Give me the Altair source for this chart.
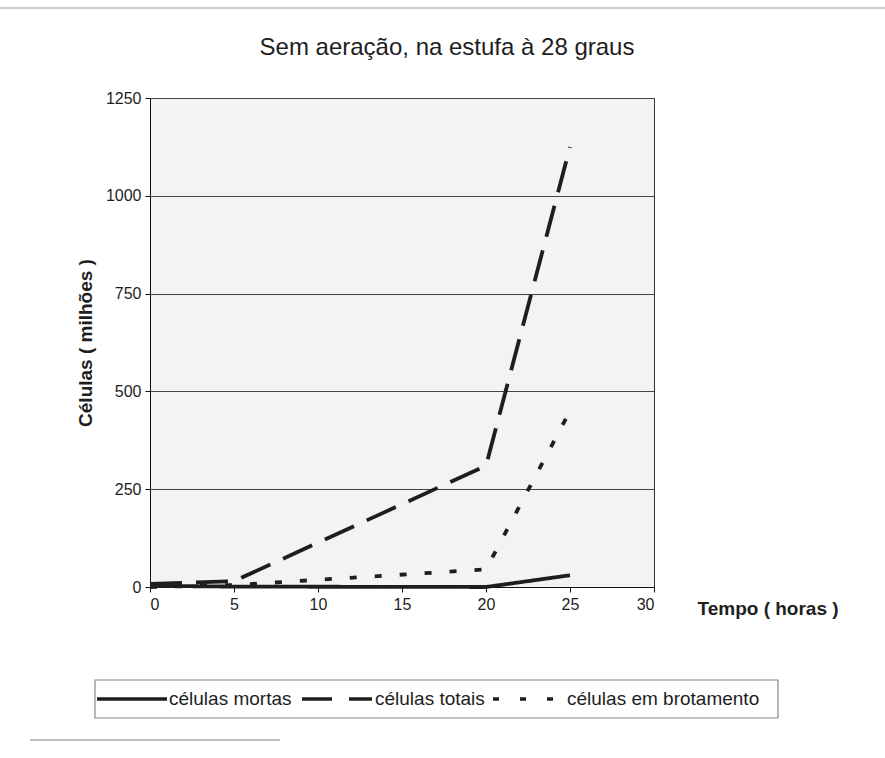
import altair as alt
import pandas as pd

tempo = [0, 5, 20, 25]
mortas = [3, 1, 0, 30]
totais = [8, 15, 310, 1125]
brotamento = [0, 5, 45, 450]
series_names = ["células mortas", "células totais", "células em brotamento"]
x_ticks = [0, 5, 10, 15, 20, 25, 30]
y_ticks = [0, 250, 500, 750, 1000, 1250]
title_text = "Sem aeração, na estufa à 28 graus"

rows = []
for name, vals in zip(series_names, [mortas, totais, brotamento]):
    for t, v in zip(tempo, vals):
        rows.append({"Tempo": t, "Células": v, "Série": name})
df = pd.DataFrame(rows)

FONT = "Liberation Sans"
INK = "#1e1e1e"
line_dashes = [[1, 0], [32, 14], [7, 18]]
legend_dashes = [[1, 0], [30, 17], [6, 21]]

lines = alt.Chart(df).mark_line(strokeWidth=3.8, color=INK).encode(
    x=alt.X("Tempo:Q",
            scale=alt.Scale(domain=[0, 30], nice=False),
            axis=alt.Axis(values=x_ticks, title="Tempo ( horas )", grid=False,
                          format="d", titleX=547, titleY=21, titleAlign="left",
                          titleBaseline="middle")),
    y=alt.Y("Células:Q",
            scale=alt.Scale(domain=[0, 1250], nice=False),
            axis=alt.Axis(values=y_ticks, title="Células ( milhões )", grid=True,
                          format="d", gridColor="#444", gridWidth=1,
                          titlePadding=10)),
    strokeDash=alt.StrokeDash(
        "Série:N",
        scale=alt.Scale(domain=series_names, range=line_dashes),
        legend=None,
    ),
)

one = pd.DataFrame({"k": [0]})

title = alt.Chart(one).mark_text(
    text=title_text, font=FONT, fontSize=24, color=INK, align="center",
    baseline="middle").encode(x=alt.value(297), y=alt.value(-50))

# manual legend box, like the spreadsheet legend
legend_box = alt.Chart(one).mark_rect(
    fill="white", stroke="#888", strokeWidth=1.2).encode(
    x=alt.value(-55), x2=alt.value(628), y=alt.value(582), y2=alt.value(620))

sym_x = [(-53, 17), (152, 222), (343, 413)]
lab_x = [19, 225, 417]
legend_layers = []
for name, dash, (a, b), lx in zip(series_names, legend_dashes, sym_x, lab_x):
    legend_layers.append(
        alt.Chart(one).mark_rule(color=INK, strokeWidth=3.5, strokeDash=dash)
        .encode(x=alt.value(a), x2=alt.value(b), y=alt.value(601)))
    legend_layers.append(
        alt.Chart(one).mark_text(text=name, font=FONT, fontSize=19, color=INK,
                                 align="left", baseline="middle")
        .encode(x=alt.value(lx), y=alt.value(601)))

top_line = alt.Chart(one).mark_rule(color="#bbb", strokeWidth=1.5).encode(
    x=alt.value(-150), x2=alt.value(735), y=alt.value(-90))
bottom_line = alt.Chart(one).mark_rule(color="#aaa", strokeWidth=1.5).encode(
    x=alt.value(-120), x2=alt.value(130), y=alt.value(642))

chart = alt.layer(top_line, bottom_line, title, lines, legend_box,
                  *legend_layers).properties(
    width=504, height=489,
    autosize=alt.AutoSizeParams(type="none"),
    padding={"left": 150, "top": 98, "right": 231, "bottom": 171},
    background="white",
).configure_view(
    fill="#f3f3f3", stroke="#333", strokeWidth=1
).configure_axis(
    domainColor="#111", tickColor="#111", tickSize=5, labelFontSize=16,
    labelFont=FONT, labelColor=INK, titleFont=FONT, titleFontSize=19,
    titleFontWeight="bold", titleColor=INK, labelPadding=4
)

chart.save("out.html", embed_options={"renderer": "svg", "actions": False})
